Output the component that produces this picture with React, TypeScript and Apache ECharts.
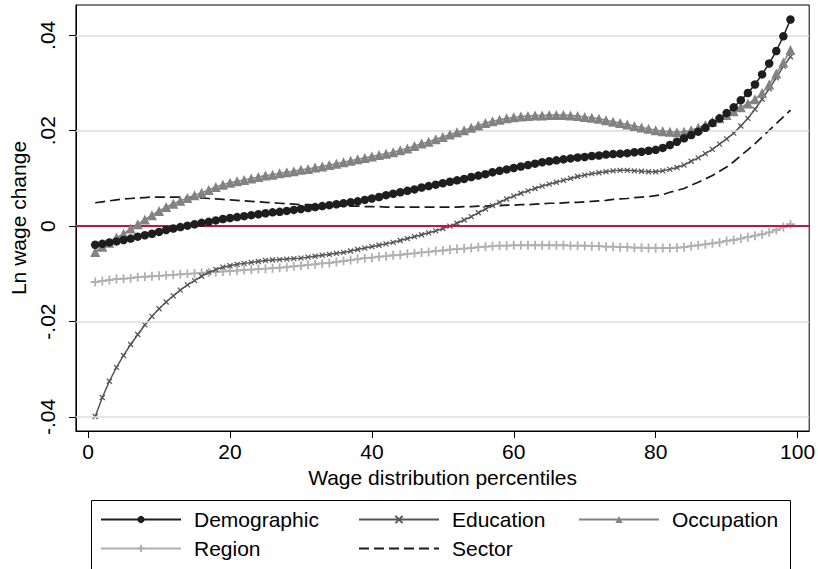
import React, { useEffect, useRef } from "react";
import * as echarts from "echarts";

const percentiles: number[] = Array.from({ length: 99 }, (_, i) => i + 1);

const demographic: number[] = [
  -0.0039, -0.0037, -0.0034, -0.0032, -0.0029, -0.0026, -0.0022, -0.0019, -0.0016, -0.0012,
  -0.0008, -0.0005, -0.0002, 0.0001, 0.0004, 0.0007, 0.0009, 0.0012, 0.0015, 0.0017,
  0.0019, 0.0021, 0.0023, 0.0025, 0.0027, 0.0029, 0.003, 0.0032, 0.0034, 0.0036,
  0.0038, 0.004, 0.0042, 0.0044, 0.0046, 0.0048, 0.005, 0.0052, 0.0055, 0.0058,
  0.0061, 0.0065, 0.0068, 0.0071, 0.0074, 0.0077, 0.0081, 0.0084, 0.0087, 0.009,
  0.0093, 0.0096, 0.0099, 0.0103, 0.0106, 0.0109, 0.0113, 0.0116, 0.0119, 0.0122,
  0.0125, 0.0128, 0.0131, 0.0134, 0.0136, 0.0138, 0.014, 0.0142, 0.0144, 0.0145,
  0.0147, 0.0148, 0.015, 0.0151, 0.0152, 0.0153, 0.0155, 0.0156, 0.0158, 0.016,
  0.0164, 0.017, 0.0177, 0.0184, 0.0191, 0.0198, 0.0206, 0.0216, 0.0226, 0.0237,
  0.0249, 0.0264, 0.0279, 0.0297, 0.0318, 0.0341, 0.0367, 0.0398, 0.0433,
];

const education: number[] = [
  -0.0399, -0.0359, -0.0325, -0.0296, -0.0271, -0.0248, -0.0227, -0.0207, -0.0189, -0.0173,
  -0.0159, -0.0146, -0.0134, -0.0123, -0.0114, -0.0105, -0.0097, -0.0091, -0.0086, -0.0083,
  -0.008, -0.0078, -0.0076, -0.0074, -0.0072, -0.0071, -0.007, -0.0069, -0.0068, -0.0067,
  -0.0065, -0.0063, -0.0061, -0.0059, -0.0057, -0.0055, -0.0052, -0.0049, -0.0046, -0.0043,
  -0.004, -0.0037, -0.0034, -0.003, -0.0026, -0.0022, -0.0018, -0.0014, -0.001, -0.0005,
  0.0, 0.0006, 0.0013, 0.002, 0.0028, 0.0036, 0.0043, 0.005, 0.0057, 0.0063,
  0.0069, 0.0074, 0.0079, 0.0084, 0.0088, 0.0092, 0.0096, 0.01, 0.0104, 0.0107,
  0.011, 0.0112, 0.0114, 0.0116, 0.0117, 0.0117, 0.0116, 0.0115, 0.0114, 0.0114,
  0.0116, 0.0119, 0.0123, 0.0128, 0.0136, 0.0143, 0.0152, 0.0161, 0.0172, 0.0183,
  0.0195, 0.021, 0.0226, 0.0245, 0.0266, 0.0288, 0.0311, 0.0335, 0.0355,
];

const occupation: number[] = [
  -0.0054, -0.0043, -0.0035, -0.0024, -0.0016, -0.0005, 0.0004, 0.0014, 0.0023, 0.0032,
  0.004, 0.0047, 0.0053, 0.0059, 0.0065, 0.007, 0.0076, 0.0082, 0.0087, 0.0091,
  0.0094, 0.0097, 0.01, 0.0103, 0.0106, 0.0108, 0.0111, 0.0113, 0.0115, 0.0118,
  0.012, 0.0123, 0.0125, 0.0128, 0.0131, 0.0134, 0.0137, 0.014, 0.0143, 0.0146,
  0.0149, 0.0152, 0.0155, 0.0159, 0.0163, 0.0168, 0.0173, 0.0177, 0.0182, 0.0187,
  0.0192, 0.0197, 0.0201, 0.0206, 0.0211, 0.0216, 0.022, 0.0223, 0.0226, 0.0228,
  0.023, 0.0231, 0.0232, 0.0232, 0.0233, 0.0233, 0.0233, 0.0232, 0.0231, 0.0229,
  0.0227, 0.0225, 0.0222, 0.0219, 0.0216, 0.0213, 0.021, 0.0207, 0.0204, 0.0201,
  0.0199, 0.0198, 0.0197, 0.0198, 0.0201, 0.0206, 0.0212, 0.0219, 0.0226, 0.0233,
  0.0241, 0.0249, 0.0257, 0.0266, 0.0279, 0.0297, 0.032, 0.0343, 0.0369,
];

const region: number[] = [
  -0.0117, -0.0115, -0.0113, -0.0111, -0.011, -0.0109, -0.0107, -0.0106, -0.0105, -0.0104,
  -0.0103, -0.0102, -0.0101, -0.01, -0.0099, -0.0098, -0.0097, -0.0096, -0.0095, -0.0094,
  -0.0093, -0.0092, -0.0091, -0.009, -0.0089, -0.0088, -0.0087, -0.0086, -0.0084, -0.0083,
  -0.0081, -0.008, -0.0078, -0.0077, -0.0075, -0.0073, -0.0071, -0.0069, -0.0067, -0.0066,
  -0.0064, -0.0063, -0.0061, -0.006, -0.0058, -0.0057, -0.0055, -0.0054, -0.0052, -0.0051,
  -0.0049, -0.0048, -0.0047, -0.0046, -0.0044, -0.0043, -0.0042, -0.0041, -0.0041, -0.004,
  -0.004, -0.004, -0.004, -0.004, -0.004, -0.004, -0.004, -0.0041, -0.0041, -0.0041,
  -0.0042, -0.0042, -0.0043, -0.0043, -0.0044, -0.0044, -0.0045, -0.0045, -0.0046, -0.0046,
  -0.0046, -0.0046, -0.0045, -0.0044, -0.0042, -0.004, -0.0038, -0.0036, -0.0034, -0.0031,
  -0.0029, -0.0026, -0.0023, -0.002, -0.0017, -0.0013, -0.0008, -0.0002, 0.0004,
];

const sector: number[] = [
  0.0049, 0.0051, 0.0053, 0.0055, 0.0057, 0.0058, 0.0059, 0.006, 0.0061, 0.0061,
  0.0061, 0.0061, 0.0061, 0.006, 0.006, 0.0059, 0.0058, 0.0057, 0.0056, 0.0055,
  0.0054, 0.0053, 0.0052, 0.0051, 0.005, 0.0049, 0.0048, 0.0047, 0.0046, 0.0045,
  0.0045, 0.0044, 0.0043, 0.0043, 0.0042, 0.0042, 0.0042, 0.0042, 0.0041, 0.0041,
  0.0041, 0.004, 0.004, 0.004, 0.004, 0.004, 0.004, 0.004, 0.004, 0.004,
  0.004, 0.004, 0.0041, 0.0041, 0.0042, 0.0042, 0.0043, 0.0043, 0.0044, 0.0044,
  0.0045, 0.0045, 0.0046, 0.0047, 0.0048, 0.0048, 0.0049, 0.005, 0.005, 0.0051,
  0.0052, 0.0053, 0.0054, 0.0056, 0.0057, 0.0058, 0.006, 0.0061, 0.0062, 0.0064,
  0.0066, 0.0071, 0.0075, 0.0079, 0.0086, 0.0092, 0.0099, 0.0106, 0.0115, 0.0124,
  0.0135, 0.0148, 0.016, 0.0173, 0.0187, 0.0201, 0.0215, 0.0229, 0.0243,
];

const xTicks: number[] = [0, 20, 40, 60, 80, 100];
const yTicks: number[] = [-0.04, -0.02, 0, 0.02, 0.04];
const yTickLabels: string[] = ["-.04", "-.02", "0", ".02", ".04"];
const gridLineValues: number[] = [-0.04, -0.02, 0.02, 0.04];

const seriesNames = ["Demographic", "Education", "Occupation", "Region", "Sector"];

const FONT = "'Liberation Sans', Arial, Helvetica, sans-serif";
const FS = 21;
const X_SYMBOL = "path://M0,0L10,10M10,0L0,10";
const PLUS_SYMBOL = "path://M5,0L5,10M0,5L10,5";

export default function App() {
  const ref = useRef<HTMLDivElement>(null);

  useEffect(() => {
    if (!ref.current) return;
    const chart = echarts.init(ref.current, undefined, { renderer: "svg" });

    const toPts = (vals: number[]) => percentiles.map((p, i) => [p, vals[i]]);

    const legendPos = [
      { left: 100, top: 509 },
      { left: 358, top: 509 },
      { left: 578, top: 509 },
      { left: 100, top: 538 },
      { left: 358, top: 538 },
    ];

    const option: any = {
      animation: false,
      backgroundColor: "#ffffff",
      textStyle: { fontFamily: FONT },
      grid: {
        left: 71,
        top: 5,
        width: 739,
        height: 426,
        show: true,
        borderColor: "#000000",
        borderWidth: 1,
        backgroundColor: "transparent",
        containLabel: false,
      },
      xAxis: {
        type: "value",
        min: -1.72,
        max: 101.64,
        name: "Wage distribution percentiles",
        nameLocation: "middle",
        nameGap: 31,
        nameTextStyle: { fontSize: FS, color: "#000", fontFamily: FONT },
        axisLine: { show: true, onZero: false, lineStyle: { color: "#000", width: 1 } },
        axisTick: {
          show: true,
          customValues: xTicks,
          length: 7,
          inside: false,
          lineStyle: { color: "#000", width: 1 },
        },
        axisLabel: {
          customValues: xTicks,
          fontSize: FS,
          color: "#000",
          margin: 10,
          fontFamily: FONT,
        },
        splitLine: { show: false },
      },
      yAxis: {
        type: "value",
        min: -0.04293,
        max: 0.04635,
        name: "Ln wage change",
        nameLocation: "middle",
        nameGap: 37,
        nameTextStyle: { fontSize: FS, color: "#000", fontFamily: FONT },
        axisLine: { show: true, onZero: false, lineStyle: { color: "#000", width: 1 } },
        axisTick: {
          show: true,
          customValues: yTicks,
          length: 7,
          inside: false,
          lineStyle: { color: "#000", width: 1 },
        },
        axisLabel: {
          customValues: yTicks,
          rotate: 90,
          fontSize: FS,
          color: "#000",
          margin: 18,
          fontFamily: FONT,
          formatter: (v: number) => {
            let best = 0;
            for (let i = 0; i < yTicks.length; i++) {
              if (Math.abs(yTicks[i] - v) < Math.abs(yTicks[best] - v)) best = i;
            }
            return yTickLabels[best];
          },
        },
        splitLine: { show: false },
      },
      legend: seriesNames.map((name, i) => ({
        data: [name],
        left: legendPos[i].left,
        top: legendPos[i].top,
        orient: "horizontal",
        padding: 0,
        itemWidth: 80,
        itemHeight: 9,
        selectedMode: false,
        ...(name === "Sector" ? { itemStyle: { opacity: 0 } } : {}),
        textStyle: {
          fontSize: FS,
          color: "#000",
          fontFamily: FONT,
          padding: [0, 0, 0, 8],
        },
      })),
      graphic: [
        {
          type: "rect",
          shape: { x: 91.5, y: 500.5, width: 699, height: 100 },
          style: { fill: "none", stroke: "#000", lineWidth: 1 },
          silent: true,
        },
      ],
      series: [
        {
          name: "gridlines",
          type: "line",
          data: [],
          z: 1,
          silent: true,
          markLine: {
            silent: true,
            symbol: "none",
            label: { show: false },
            lineStyle: { color: "#dcdcdc", width: 1.5, type: "solid" },
            data: gridLineValues.map((v) => ({ yAxis: v })),
          },
        },
        {
          name: "zeroline",
          type: "line",
          data: [],
          z: 1,
          silent: true,
          markLine: {
            silent: true,
            symbol: "none",
            label: { show: false },
            lineStyle: { color: "#cc1040", width: 1.8, type: "solid" },
            data: [{ yAxis: 0 }],
          },
        },
        {
          name: "Region",
          type: "line",
          data: toPts(region),
          z: 2,
          symbol: PLUS_SYMBOL,
          symbolSize: 9,
          showAllSymbol: true,
          color: "#b0b0b0",
          lineStyle: { color: "#b0b0b0", width: 1.5 },
          itemStyle: { color: "#b0b0b0", borderColor: "#b0b0b0", borderWidth: 1.8 },
        },
        {
          name: "Sector",
          type: "line",
          data: toPts(sector),
          z: 3,
          symbol: "none",
          color: "#1a1a1a",
          lineStyle: { color: "#1a1a1a", width: 1.7, type: [10, 5] },
          itemStyle: { color: "#1a1a1a" },
        },
        {
          name: "Education",
          type: "line",
          data: toPts(education),
          z: 4,
          symbol: X_SYMBOL,
          symbolSize: 5,
          showAllSymbol: true,
          color: "#555555",
          lineStyle: { color: "#555555", width: 1.5 },
          itemStyle: { color: "#555555", borderColor: "#555555", borderWidth: 1.2 },
        },
        {
          name: "Occupation",
          type: "line",
          data: toPts(occupation),
          z: 5,
          symbol: "triangle",
          symbolSize: 10,
          showAllSymbol: true,
          color: "#828282",
          lineStyle: { color: "#828282", width: 1.5 },
          itemStyle: { color: "#828282" },
        },
        {
          name: "Demographic",
          type: "line",
          data: toPts(demographic),
          z: 6,
          symbol: "circle",
          symbolSize: 8.5,
          showAllSymbol: true,
          color: "#1e1e1e",
          lineStyle: { color: "#1e1e1e", width: 1.5 },
          itemStyle: { color: "#1e1e1e" },
        },
      ],
    };

    chart.setOption(option);
    return () => {
      chart.dispose();
    };
  }, []);

  return (
    <div
      ref={ref}
      style={{
        position: "fixed",
        left: 0,
        top: 0,
        width: 818,
        height: 569,
        background: "#fff",
      }}
    />
  );
}
